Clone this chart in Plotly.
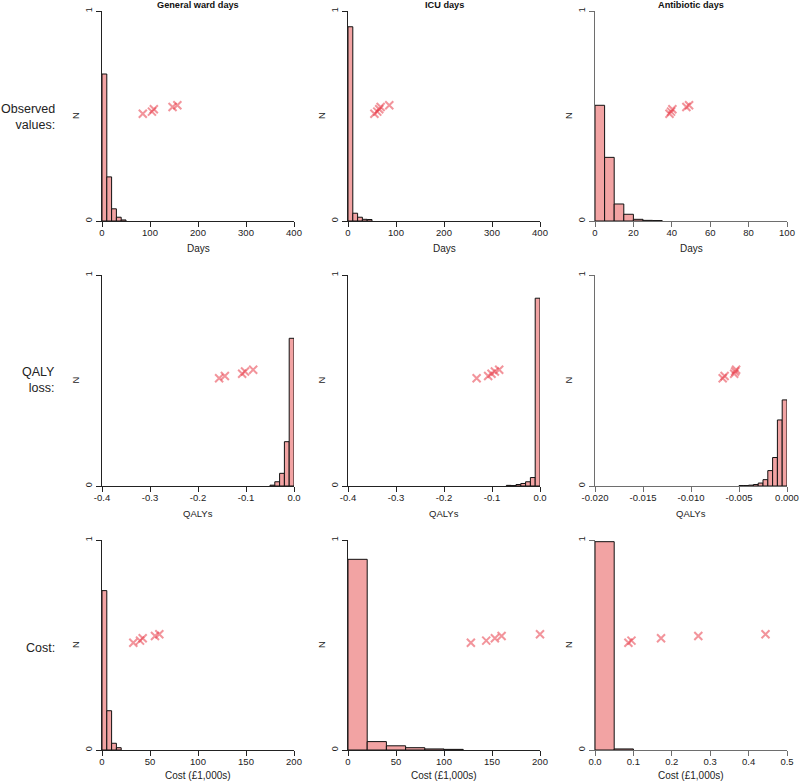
import plotly.graph_objects as go

# ---------------- data ----------------
col_titles = ["General ward days", "ICU days", "Antibiotic days"]
row_labels = ["Observed<br>values:", "QALY<br>loss:", "Cost:"]
x_titles = ["Days", "QALYs", "Cost (£1,000s)"]

# histogram bins (left edges) and relative frequencies
gw_days_left = [0, 10, 20, 30, 40]
gw_days_h = [0.70, 0.21, 0.058, 0.018, 0.005]
icu_days_left = [0, 10, 20, 30, 40]
icu_days_h = [0.925, 0.037, 0.018, 0.008, 0.007]
ab_days_left = [0, 5, 10, 15, 20, 25, 30]
ab_days_h = [0.551, 0.303, 0.081, 0.032, 0.008, 0.003, 0.002]

gw_qaly_left = [-0.05, -0.04, -0.03, -0.02, -0.01]
gw_qaly_h = [0.004, 0.02, 0.06, 0.21, 0.70]
icu_qaly_left = [-0.07, -0.06, -0.05, -0.04, -0.03, -0.02, -0.01]
icu_qaly_h = [0.003, 0.002, 0.007, 0.012, 0.02, 0.04, 0.89]
ab_qaly_left = [-0.005, -0.0045, -0.004, -0.0035, -0.003, -0.0025, -0.002, -0.0015, -0.001, -0.0005]
ab_qaly_h = [0.002, 0.002, 0.004, 0.007, 0.014, 0.03, 0.073, 0.135, 0.313, 0.408]

gw_cost_left = [0, 5, 10, 15]
gw_cost_h = [0.759, 0.187, 0.032, 0.011]
icu_cost_left = [0, 20, 40, 60, 80, 100]
icu_cost_h = [0.908, 0.04, 0.02, 0.011, 0.005, 0.003]
ab_cost_left = [0.0, 0.05]
ab_cost_h = [0.992, 0.005]

bin_widths = [[10, 10, 5], [0.01, 0.01, 0.0005], [5, 20, 0.05]]

# observed values (crosses)
gw_days_obs_x = [85, 104, 108, 147, 157]
icu_days_obs_x = [55, 61, 65, 68, 86]
ab_days_obs_x = [38.8, 39.6, 40.3, 47.6, 49.0]
gw_qaly_obs_x = [-0.156, -0.144, -0.108, -0.102, -0.085]
icu_qaly_obs_x = [-0.132, -0.108, -0.101, -0.094, -0.085]
ab_qaly_obs_x = [-0.0067, -0.0065, -0.0055, -0.0054, -0.0053]
gw_cost_obs_x = [32.6, 39.6, 42.4, 55.2, 59.7]
icu_cost_obs_x = [128, 144, 153, 160, 200]
ab_cost_obs_x = [0.087, 0.095, 0.172, 0.269, 0.444]
obs_y = [0.511, 0.521, 0.532, 0.543, 0.551]

x_ranges = [[[0, 400], [0, 400], [0, 100]],
            [[-0.4, 0], [-0.4, 0], [-0.02, 0]],
            [[0, 200], [0, 200], [0, 0.5]]]
x_ticks = [[[0, 100, 200, 300, 400], [0, 100, 200, 300, 400], [0, 20, 40, 60, 80, 100]],
           [[-0.4, -0.3, -0.2, -0.1, 0.0], [-0.4, -0.3, -0.2, -0.1, 0.0],
            [-0.020, -0.015, -0.010, -0.005, 0.000]],
           [[0, 50, 100, 150, 200], [0, 50, 100, 150, 200], [0.0, 0.1, 0.2, 0.3, 0.4, 0.5]]]
x_ticktext = [[["0", "100", "200", "300", "400"], ["0", "100", "200", "300", "400"],
               ["0", "20", "40", "60", "80", "100"]],
              [["-0.4", "-0.3", "-0.2", "-0.1", "0.0"], ["-0.4", "-0.3", "-0.2", "-0.1", "0.0"],
               ["-0.020", "-0.015", "-0.010", "-0.005", "0.000"]],
              [["0", "50", "100", "150", "200"], ["0", "50", "100", "150", "200"],
               ["0.0", "0.1", "0.2", "0.3", "0.4", "0.5"]]]

hist_left = [[gw_days_left, icu_days_left, ab_days_left],
             [gw_qaly_left, icu_qaly_left, ab_qaly_left],
             [gw_cost_left, icu_cost_left, ab_cost_left]]
hist_h = [[gw_days_h, icu_days_h, ab_days_h],
          [gw_qaly_h, icu_qaly_h, ab_qaly_h],
          [gw_cost_h, icu_cost_h, ab_cost_h]]
obs_x = [[gw_days_obs_x, icu_days_obs_x, ab_days_obs_x],
         [gw_qaly_obs_x, icu_qaly_obs_x, ab_qaly_obs_x],
         [gw_cost_obs_x, icu_cost_obs_x, ab_cost_obs_x]]

# ---------------- layout geometry (pixels) ----------------
W, H = 800, 783
col_px = [(102, 294), (348, 540), (595, 787)]
row_px = [(11, 221), (275, 486), (540, 750)]
FONT = "Liberation Sans, Arial, sans-serif"

fig = go.Figure()
layout = dict(
    width=W, height=H, margin=dict(l=0, r=0, t=0, b=0, autoexpand=False),
    paper_bgcolor="white", plot_bgcolor="white", showlegend=False,
    font=dict(family=FONT, size=10, color="#222"),
    bargap=0,
)
annotations = []

for r in range(3):
    for c in range(3):
        k = r * 3 + c + 1
        xa = "x" if k == 1 else f"x{k}"
        ya = "y" if k == 1 else f"y{k}"
        axcol = "#222" if c < 2 else "#6e6e6e"
        x0, x1 = col_px[c]
        y0, y1 = row_px[r]
        fig.add_trace(go.Bar(
            x=hist_left[r][c], y=hist_h[r][c], width=bin_widths[r][c], offset=0,
            marker=dict(color="#f2a3a3", line=dict(color="#111", width=1)),
            xaxis=xa, yaxis=ya, hoverinfo="skip"))
        fig.add_trace(go.Scatter(
            x=obs_x[r][c], y=obs_y, mode="markers",
            marker=dict(symbol="x-thin", size=8,
                        line=dict(color="rgba(232,60,72,0.55)", width=2)),
            xaxis=xa, yaxis=ya, hoverinfo="skip", cliponaxis=False))
        layout["xaxis" if k == 1 else f"xaxis{k}"] = dict(
            domain=[x0 / W, x1 / W], anchor=ya, range=x_ranges[r][c], automargin=False,
            showgrid=False, zeroline=False, showline=True, linecolor=axcol, linewidth=1,
            ticks="outside", ticklen=5, tickcolor=axcol, ticklabelstandoff=-2,
            tickvals=x_ticks[r][c], ticktext=x_ticktext[r][c],
            tickfont=dict(size=9.5, color="#222"), fixedrange=True)
        layout["yaxis" if k == 1 else f"yaxis{k}"] = dict(
            domain=[1 - y1 / H, 1 - y0 / H], anchor=xa, range=[0, 1], automargin=False,
            showgrid=False, zeroline=False, showline=True, linecolor=axcol, linewidth=1,
            ticks="outside", ticklen=5, tickcolor=axcol,
            tickvals=[0, 1], ticktext=["0", "1"], tickangle=-90,
            tickfont=dict(size=9, color="#222"), fixedrange=True)
        # "N" y-axis label
        annotations.append(dict(
            x=(x0 - 27) / W, y=1 - ((y0 + y1) / 2) / H, xref="paper", yref="paper",
            text="N", textangle=-90, showarrow=False, font=dict(size=9.5, color="#222"),
            xanchor="center", yanchor="middle"))
        # x-axis title
        xt_y = {0: 248, 1: 513, 2: 775}[r]
        annotations.append(dict(
            x=((x0 + x1) / 2) / W, y=1 - xt_y / H, xref="paper", yref="paper",
            text=x_titles[r], showarrow=False, font=dict(size=10 if r != 1 else 9.5, color="#222"),
            xanchor="center", yanchor="middle"))

for c in range(3):
    x0, x1 = col_px[c]
    annotations.append(dict(
        x=((x0 + x1) / 2) / W, y=1 - 5 / H, xref="paper", yref="paper",
        text=f"<b>{col_titles[c]}</b>", showarrow=False, font=dict(size=9.2, color="#111"),
        xanchor="center", yanchor="middle"))

for r in range(3):
    cy = {0: 117, 1: 380, 2: 648}[r]
    annotations.append(dict(
        x=57 / W, y=1 - cy / H, xref="paper", yref="paper",
        text=row_labels[r], showarrow=False, align="right",
        font=dict(size=12.5, color="#222"), xanchor="right", yanchor="middle"))

layout["annotations"] = annotations
fig.update_layout(**layout)
fig.write_html(
    "out.html",
    config={"displayModeBar": False, "staticPlot": True},
    post_script="document.body.style.margin='0';document.body.style.overflow='hidden';",
)
